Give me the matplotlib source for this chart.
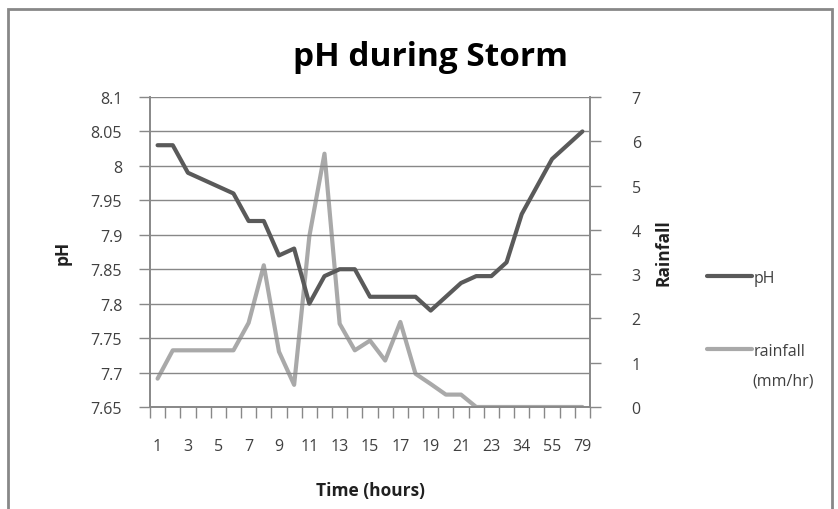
import matplotlib.pyplot as plt
from matplotlib.patches import Rectangle

# data (x axis is categorical, every other label shown)
hours = [1, 2, 3, 4, 5, 6, 7, 8, 9, 10, 11, 12, 13, 14, 15, 16, 17, 18, 19, 20,
         21, 22, 23, 27, 34, 45, 55, 67, 79]
ph = [8.03, 8.03, 7.99, 7.98, 7.97, 7.96, 7.92, 7.92, 7.87, 7.88, 7.80, 7.84,
      7.85, 7.85, 7.81, 7.81, 7.81, 7.81, 7.79, 7.81, 7.83, 7.84, 7.84, 7.86,
      7.93, 7.97, 8.01, 8.03, 8.05]
rainfall = [0.64, 1.28, 1.28, 1.28, 1.28, 1.28, 1.9, 3.2, 1.25, 0.5, 3.85, 5.72,
            1.88, 1.28, 1.5, 1.05, 1.92, 0.75, 0.52, 0.28, 0.28, 0.0, 0.0, 0.0,
            0.0, 0.0, 0.0, 0.0, 0.0]
ph_ticks = [7.65, 7.7, 7.75, 7.8, 7.85, 7.9, 7.95, 8.0, 8.05, 8.1]
ph_labels = ["7.65", "7.7", "7.75", "7.8", "7.85", "7.9", "7.95", "8", "8.05", "8.1"]
rain_ticks = [0, 1, 2, 3, 4, 5, 6, 7]

plt.rcParams['font.family'] = ['Open Sans', 'DejaVu Sans']

dark = '#5a5a5a'
light = '#a9a9a9'
axis_col = '#888888'
text_col = '#404040'

fig = plt.figure(figsize=(8.38, 5.10), dpi=100)
ax = fig.add_axes([150/838, 1 - 408/510, 440/838, 310/510])
ax2 = ax.twinx()

n = len(hours)
xs = [i + 0.5 for i in range(n)]

line_ph, = ax.plot(xs, ph, color=dark, lw=3, solid_capstyle='round', zorder=3)
line_rain, = ax2.plot(xs, rainfall, color=light, lw=3, solid_capstyle='round')
ax.set_zorder(ax2.get_zorder() + 1)
ax.patch.set_visible(False)

ax.set_xlim(0, n)
ax.set_ylim(7.65, 8.1)
ax2.set_ylim(0, 7)

ax.set_yticks(ph_ticks)
ax.set_yticklabels(ph_labels)
ax2.set_yticks(rain_ticks)
ax.yaxis.grid(True, color=axis_col, lw=1)
ax.set_axisbelow(True)

# category boundaries as tick marks, labels at every other category centre
ax.set_xticks(range(n + 1))
ax.set_xticklabels([])
ax.set_xticks(xs[::2], minor=True)
ax.set_xticklabels([str(h) for h in hours[::2]], minor=True)
ax.tick_params(axis='x', which='major', length=8, color=axis_col, width=1, direction='out')
ax.tick_params(axis='x', which='minor', length=0, pad=22, labelsize=11.5, labelcolor=text_col)
ax.tick_params(axis='y', length=8, color=axis_col, width=1, labelsize=11.5,
               labelcolor=text_col, pad=12)
ax2.tick_params(axis='y', length=8, color=axis_col, width=1, labelsize=11.5,
                labelcolor=text_col, pad=22)

for a in (ax, ax2):
    a.spines['top'].set_visible(False)
    for s in ('left', 'right', 'bottom'):
        a.spines[s].set_color(axis_col)
        a.spines[s].set_linewidth(1.2)

ax.set_xlabel('Time (hours)', fontsize=12.5, fontweight='bold', color='#202020', labelpad=20)
ax.set_ylabel('pH', fontsize=12.5, fontweight='bold', color='#202020', labelpad=14)
ax2.set_ylabel('Rainfall', fontsize=12.5, fontweight='bold', color='#202020', labelpad=10)

fig.text(430/838, 1 - 57/510, 'pH during Storm', ha='center', va='center',
         fontsize=24, fontweight='bold', color='#000000')

leg1 = fig.legend([line_ph], ['pH'], loc='center left',
                  bbox_to_anchor=(693/838, 1 - 279/510), frameon=False, fontsize=11.5,
                  labelcolor=text_col, handlelength=2.8, handletextpad=0.1)
leg2 = fig.legend([line_rain], ['rainfall'], loc='center left',
                  bbox_to_anchor=(693/838, 1 - 352/510), frameon=False, fontsize=11.5,
                  labelcolor=text_col, handlelength=2.8, handletextpad=0.1)
fig.text(752/838, 1 - 381/510, '(mm/hr)', ha='left', va='center', fontsize=11.5, color=text_col)

fig.patches.append(Rectangle((8/838, -0.02), 824/838, 1.02 - 10/510, transform=fig.transFigure,
                             fill=False, edgecolor=axis_col, lw=2))

fig.savefig('out.png', dpi=100)
